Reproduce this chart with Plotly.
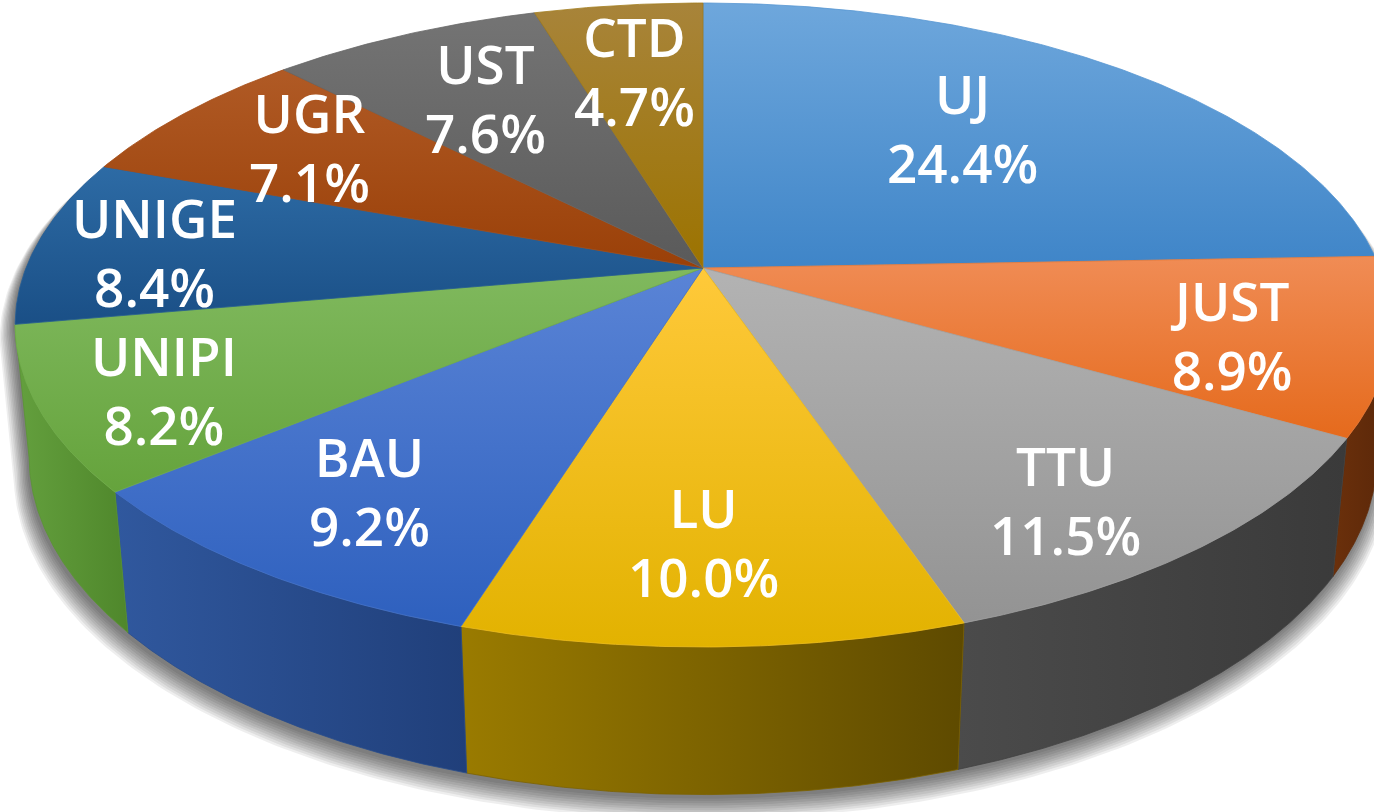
import numpy as np
import plotly.graph_objects as go

# ---------------- data ----------------
labels = ["UJ", "JUST", "TTU", "LU", "BAU", "UNIPI", "UNIGE", "UGR", "UST", "CTD"]
shares = [24.4, 8.9, 11.5, 10.0, 9.2, 8.2, 8.4, 7.1, 7.6, 4.7]

# ---------------- styles ----------------
top_light = ["#6EA7DC", "#F08C55", "#B3B3B3", "#FFC93A", "#5A84D6",
             "#80B95E", "#2D6BA5", "#B05A25", "#747474", "#A8843A"]
top_dark = ["#3F85C8", "#E56A1C", "#939393", "#E2B200", "#2E60BE",
            "#65A33C", "#1A4F86", "#9A4008", "#5A5A5A", "#9C7300"]
side_left = ["#2E5E8E", "#6B300B", "#4B4B4B", "#9A7B00", "#30589E",
             "#64A03E", "#1A3F63", "#5E2A08", "#3E3E3E", "#5E4A00"]
side_right = ["#244B73", "#5A2709", "#3A3A3A", "#5E4A00", "#203F7A",
              "#4F872B", "#133050", "#4A2006", "#303030", "#4A3A00"]
label_radius = [0.64, 0.78, 0.81, 0.76, 0.77, 0.83, 0.82, 0.75, 0.70, 0.72]
label_turn_deg = [3.4, -1.5, -3.7, -0.7, -0.8, 1.3, 1.4, -0.8, 0.0, 0.6]

W, H = 1374, 812
CX, CY = 703.0, 268.0          # projected pie centre
A, B, P = 677.0, 311.9, 0.177  # projection of the top disc
E, Q = 132.0, 0.02             # thickness of the pie
FONT_SIZE = 53

def top_pt(theta, r=1.0):
    X = r * np.cos(theta)
    Z = r * np.sin(theta)
    w = 1 + P * Z
    return CX + A * X / w, CY - B * Z / w

def bot_pt(theta):
    X = np.cos(theta)
    Z = np.sin(theta)
    w = 1 + P * Z + Q
    return CX + A * X / w, CY + (-B * Z + E) / w

def mix(c1, c2, t=0.5):
    a = [int(c1[i:i + 2], 16) for i in (1, 3, 5)]
    b = [int(c2[i:i + 2], 16) for i in (1, 3, 5)]
    return "#" + "".join(f"{int(round(x + (y - x) * t)):02X}" for x, y in zip(a, b))

fracs = np.array(shares) / np.sum(shares)
cum = np.concatenate([[0], np.cumsum(fracs)])
starts = np.pi / 2 - 2 * np.pi * cum[:-1]
ends = np.pi / 2 - 2 * np.pi * cum[1:]

fig = go.Figure()

# ---------------- soft shadow ----------------
sil = np.arcsin(P)
back = np.linspace(-sil, np.pi + sil, 200)
front = np.linspace(-np.pi + sil, -sil, 200)
tx, ty = top_pt(back)
bx, by = bot_pt(front)
sx = np.concatenate([tx, bx])
sy = np.concatenate([ty, by])
ax0, ay0 = CX, 3.0
for k in range(10):
    s = 1.0 + 0.0022 * k
    fig.add_trace(go.Scatter(
        x=ax0 + (sx - ax0) * s - 2, y=ay0 + (sy - ay0) * s + 4 + 0.6 * k,
        fill="toself", mode="lines", line=dict(width=0),
        fillcolor="rgba(0,0,0,0.065)", hoverinfo="skip", showlegend=False))

# ---------------- sides ----------------
vis_lo, vis_hi = -np.pi + sil, -sil
for i in range(len(labels)):
    lo = max(ends[i], vis_lo)
    hi = min(starts[i], vis_hi)
    if hi <= lo:
        continue
    th = np.linspace(hi, lo, 120)
    x1, y1 = top_pt(th)
    x2, y2 = bot_pt(th[::-1])
    xs = np.concatenate([x1, x2, x1[:1]])
    ys = np.concatenate([y1, y2, y1[:1]])
    fig.add_trace(go.Scatter(
        x=xs, y=ys, fill="toself", mode="lines",
        line=dict(width=0.8, color=mix(side_left[i], side_right[i])),
        fillgradient=dict(type="horizontal",
                          colorscale=[[0, side_left[i]], [1, side_right[i]]]),
        hoverinfo="skip", showlegend=False))

# ---------------- top faces ----------------
for i in range(len(labels)):
    n = max(int(abs(starts[i] - ends[i]) / (2 * np.pi) * 720), 12)
    th = np.linspace(starts[i], ends[i], n)
    ax_, ay_ = top_pt(th)
    xs = np.concatenate([[CX], ax_, [CX]])
    ys = np.concatenate([[CY], ay_, [CY]])
    fig.add_trace(go.Scatter(
        x=xs, y=ys, fill="toself", mode="lines",
        line=dict(width=0.8, color=mix(top_light[i], top_dark[i])),
        fillgradient=dict(type="vertical",
                          colorscale=[[0, top_dark[i]], [1, top_light[i]]]),
        hoverinfo="skip", showlegend=False, name=labels[i]))

# ---------------- labels ----------------
for i in range(len(labels)):
    mid = (starts[i] + ends[i]) / 2 + np.deg2rad(label_turn_deg[i])
    lx, ly = top_pt(mid, label_radius[i])
    fig.add_annotation(
        x=float(lx), y=float(ly), xref="x", yref="y",
        text=f"{labels[i]}<br>{shares[i]:.1f}%",
        showarrow=False, xanchor="center", yanchor="middle", align="center",
        font=dict(family="Open Sans", size=FONT_SIZE, color="white", weight=600))

fig.update_layout(
    width=W, height=H,
    margin=dict(l=0, r=0, t=0, b=0),
    paper_bgcolor="white", plot_bgcolor="white",
    showlegend=False,
    xaxis=dict(range=[0, W], visible=False, fixedrange=True),
    yaxis=dict(range=[H, 0], visible=False, fixedrange=True),
)

fig.write_html("out.html")
